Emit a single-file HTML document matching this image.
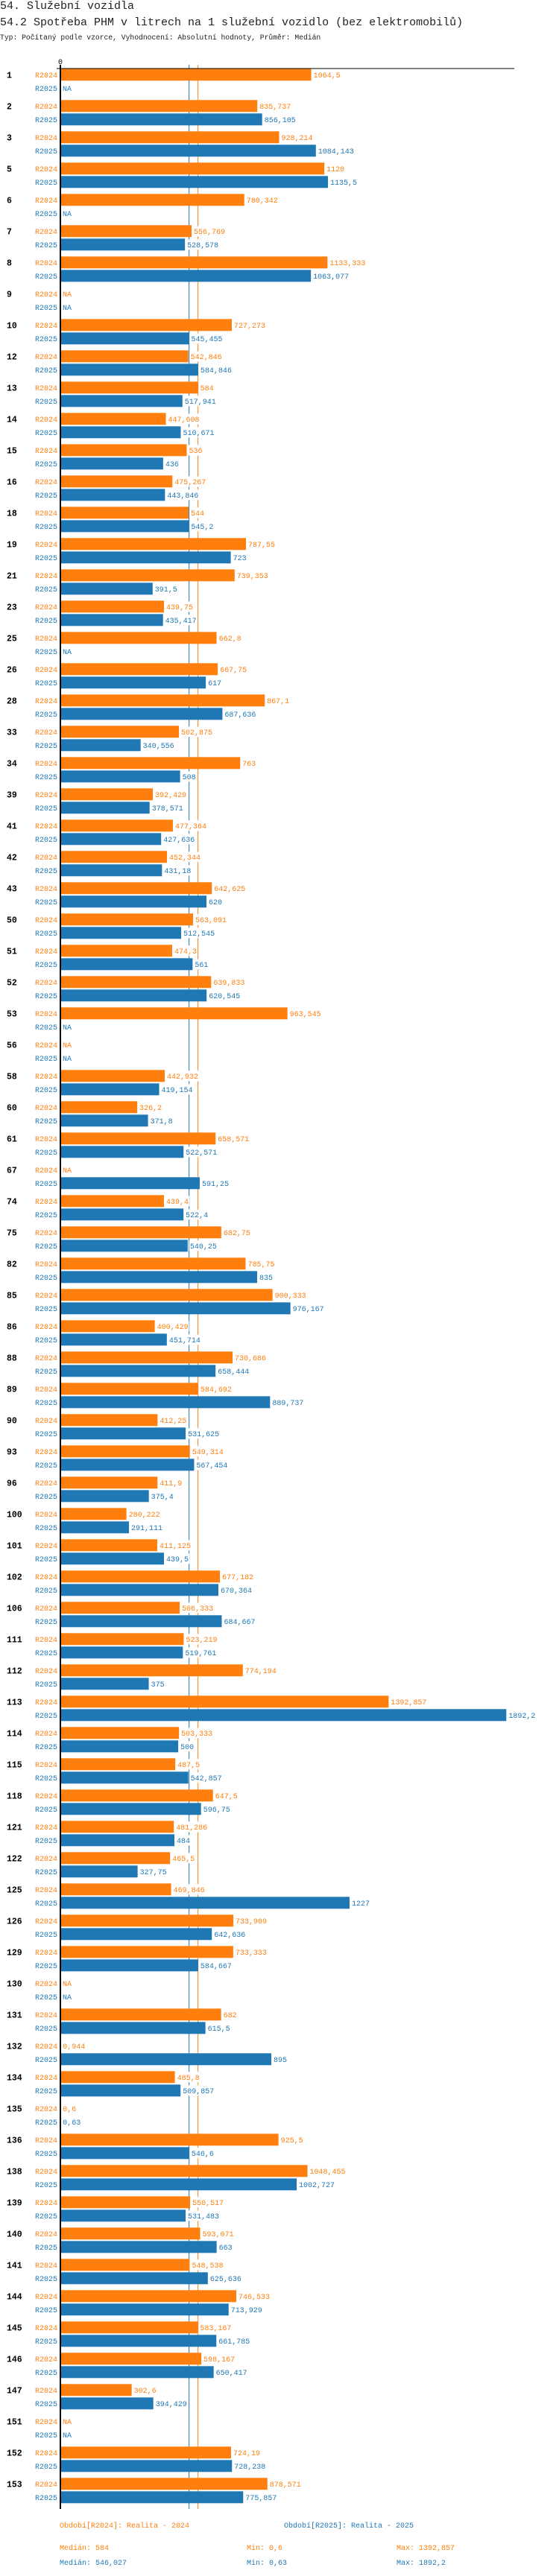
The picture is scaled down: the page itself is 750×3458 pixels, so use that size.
<!DOCTYPE html>
<html><head><meta charset="utf-8">
<style>
html,body{margin:0;padding:0;background:#fff;}
body{width:750px;height:3458px;overflow:hidden;position:relative;font-family:"Liberation Mono","DejaVu Sans Mono",monospace;color:#222;}
.t1{position:absolute;left:0;top:0;font-size:15px;line-height:17px;white-space:nowrap;}
.t2{position:absolute;left:0;top:22px;font-size:15px;line-height:17px;white-space:nowrap;}
.t3{position:absolute;left:0;top:45px;font-size:9.7px;line-height:12px;white-space:nowrap;}
svg{position:absolute;left:0;top:0;}
</style></head>
<body>
<div class="t1">54. Služební vozidla</div>
<div class="t2">54.2 Spotřeba PHM v litrech na 1 služební vozidlo (bez elektromobilů)</div>
<div class="t3">Typ: Počítaný podle vzorce, Vyhodnocení: Absolutní hodnoty, Průměr: Medián</div>
<svg id="chart" width="750" height="3458"></svg>
<script>
const categories = ["1","2","3","5","6","7","8","9","10","12","13","14","15","16","18","19","21","23","25","26","28","33","34","39","41","42","43","50","51","52","53","56","58","60","61","67","74","75","82","85","86","88","89","90","93","96","100","101","102","106","111","112","113","114","115","118","121","122","125","126","129","130","131","132","134","135","136","138","139","140","141","144","145","146","147","151","152","153"];
const values2024 = [1064.5,835.737,928.214,1120,780.342,556.769,1133.333,null,727.273,542.846,584,447.608,536,475.267,544,787.55,739.353,439.75,662.8,667.75,867.1,502.875,763,392.429,477.364,452.344,642.625,563.091,474.3,639.833,963.545,null,442.932,326.2,658.571,null,439.4,682.75,785.75,900.333,400.429,730.686,584.692,412.25,549.314,411.9,280.222,411.125,677.182,506.333,523.219,774.194,1392.857,503.333,487.5,647.5,481.286,465.5,469.846,733.909,733.333,null,682,0.944,485.8,0.6,925.5,1048.455,550.517,593.071,548.538,746.533,583.167,598.167,302.6,null,724.19,878.571];
const values2025 = [null,856.105,1084.143,1135.5,null,528.578,1063.077,null,545.455,584.846,517.941,510.671,436,443.846,545.2,723,391.5,435.417,null,617,687.636,340.556,508,378.571,427.636,431.18,620,512.545,561,620.545,null,null,419.154,371.8,522.571,591.25,522.4,540.25,835,976.167,451.714,658.444,889.737,531.625,567.454,375.4,291.111,439.5,670.364,684.667,519.761,375,1892.2,500,542.857,596.75,484,327.75,1227,642.636,584.667,null,615.5,895,509.857,0.63,546.6,1002.727,531.483,663,625.636,713.929,661.785,650.417,394.429,null,728.238,775.857];
const median2024 = 584;
const median2025 = 546.027;
const stats2024 = ["Medián: 584","Min: 0,6","Max: 1392,857"];
const stats2025 = ["Medián: 546,027","Min: 0,63","Max: 1892,2"];

const NS = "http://www.w3.org/2000/svg";
const svg = document.getElementById("chart");
const X0 = 81, K = 0.3162, TOP = 92.3, PITCH = 42.0, BH = 16, OFF = 18;
const ORANGE = "#ff7f0e", BLUE = "#1f77b4";
const xs = v => X0 + v * K;
const ys = i => TOP + i * PITCH;
function mk(tag, attrs){ const e=document.createElementNS(NS,tag); for(const k in attrs) e.setAttribute(k,attrs[k]); svg.appendChild(e); return e; }
const fmt = v => String(v).replace('.', ',');

// medians (drawn first, text backgrounds knock them out)
let m = mk("line",{x1:xs(median2025),x2:xs(median2025),y1:87,y2:3368,stroke:BLUE,"stroke-width":1});


m = mk("line",{x1:xs(median2024),x2:xs(median2024),y1:87,y2:3368,stroke:ORANGE,"stroke-width":1});



function drawBar(i, v, row, color, series){
  const y = ys(i) + row*OFF;
  const cy = y + BH/2 + 3.5;
  const lab = mk("text",{x:77,y:cy,"text-anchor":"end","font-size":10,fill:color,"font-family":"Liberation Mono, monospace"});
  lab.textContent = series;
  
  
  let tx;
  if (v === null){ tx = 84; }
  else {
    const r = mk("rect",{x:X0,y:y,width:Math.max(0,xs(v)-X0),height:BH,fill:color});
    
    
    tx = xs(v) + 3;
  }
  const s = v === null ? "NA" : fmt(v);
  const bg = mk("rect",{x:tx-1,y:y+1,width:s.length*6+2,height:BH-2,fill:"#fff"});
  
  
  const t = mk("text",{x:tx,y:cy,"font-size":10,fill:color,"font-family":"Liberation Mono, monospace"});
  t.textContent = s;
  
  
}

categories.forEach((c,i)=>{
  const g = mk("text",{x:9,y:ys(i)+BH/2+4,"font-size":11.5,"font-weight":"bold",fill:"#000","font-family":"Liberation Mono, monospace"});
  g.textContent = c;
  
  
  drawBar(i, values2024[i], 0, ORANGE, "R2024");
  drawBar(i, values2025[i], 1, BLUE, "R2025");
});

// axes
let a = mk("line",{x1:81,x2:81,y1:87,y2:3368,stroke:"#000","stroke-width":2});


a = mk("line",{x1:76,x2:690,y1:92,y2:92,stroke:"#000","stroke-width":1});


a = mk("text",{x:81,y:86,"text-anchor":"middle","font-size":10,fill:"#000","font-family":"Liberation Mono, monospace"});
a.textContent = "0";



// legend
function txt(x,y,s,color,name){
  const t = mk("text",{x:x,y:y,"font-size":10,fill:color,"font-family":"Liberation Mono, monospace"});
  t.textContent = s;
  
  
}
txt(80,3393,"Období[R2024]: Realita - 2024",ORANGE,"legend-entry-2024");
txt(381,3393,"Období[R2025]: Realita - 2025",BLUE,"legend-entry-2025");
const sx = [80,331,532];
stats2024.forEach((s,j)=>txt(sx[j],3423,s,ORANGE,"stat-2024"));
stats2025.forEach((s,j)=>txt(sx[j],3443,s,BLUE,"stat-2025"));
</script>
</body></html>
